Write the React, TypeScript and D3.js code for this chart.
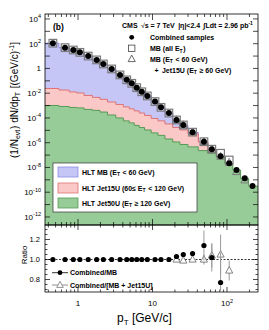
import React from 'react';
import * as d3 from 'd3';

// bin centres in pT [GeV/c]
const ptCenters = [0.46, 0.67, 0.865, 1.06, 1.37, 1.78, 2.19, 2.83, 3.66, 4.51, 5.27, 6.14, 7.17, 8.52, 10.8, 13, 16.6, 21, 25.9, 34.5, 49, 62.5, 82, 107, 134, 173, 220];
// combined samples
const combined = [110, 48, 31, 20, 10, 4.9, 2.3, 0.91, 0.3, 0.12, 0.063, 0.028, 0.013, 6.0e-3, 2.1e-3, 7.2e-4, 2.5e-4, 6.9e-5, 2.7e-5, 7.1e-6, 1.2e-6, 3.0e-7, 7.9e-8, 2.2e-8, 6.3e-9, 1.35e-9, 3.2e-10];
// MB (all ET), open squares
const mbAll = [110, 48, 31, 20, 10, 4.9, 2.3, 0.91, 0.3, 0.12, 0.063, 0.028, 0.013, 6.0e-3, 2.1e-3, 7.2e-4, 2.5e-4, 6.9e-5, 2.7e-5, 7.1e-6, 1.2e-6, 3.0e-7, 1.4e-7, 4.0e-8];
// MB (ET<60) + Jet15U (ET>=60), open triangles
const triPt = [21, 25.9, 34.5, 49, 62.5, 82, 107, 134, 173];
const triVal = [6.9e-5, 2.7e-5, 7.1e-6, 1.2e-6, 2.9e-7, 7.6e-8, 2.5e-8, 4.5e-9, 9.5e-10];
// trigger contributions (step histograms)
const hltMB = [110, 48, 31, 20, 10, 4.9, 2.3, 0.91, 0.3, 0.12, 0.063, 0.028, 0.013, 6.0e-3, 2.1e-3, 7.2e-4, 2.5e-4, 6.6e-5, 2.5e-5, 6.6e-6, 1.0e-6, 1e-7, 1e-8, 3e-10, 1e-11, 5e-13, 1e-13];
const hltJet15 = [0.024, 0.018, 0.0126, 0.0105, 6.6e-3, 4.6e-3, 3.2e-3, 1.95e-3, 1.23e-3, 7.8e-4, 5.4e-4, 3.7e-4, 2.5e-4, 1.6e-4, 9.1e-5, 5.8e-5, 3.3e-5, 1.7e-5, 1.07e-5, 5.1e-6, 1.17e-6, 2.8e-7, 6.3e-8, 6.3e-9, 6.3e-10, 3.2e-11, 1e-12];
const hltJet50 = [1.02e-3, 8.5e-4, 7.1e-4, 6.5e-4, 4.9e-4, 4.1e-4, 3.0e-4, 1.74e-4, 1.0e-4, 5.8e-5, 4.0e-5, 2.5e-5, 1.7e-5, 1.07e-5, 6.2e-6, 3.9e-6, 2.0e-6, 1.15e-6, 7.2e-7, 4.6e-7, 2.3e-7, 1.48e-7, 7.6e-8, 2.1e-8, 6.2e-9, 1.32e-9, 3.1e-10];
// ratios
const ratioMB = [1, 1, 1, 1, 1, 1, 1, 1, 1, 1, 1, 1, 1, 1, 1, 1, 1, 1.03, 1.05, 1.06, 1.14, 1.02, 0.77];
const ratioMBErr = [0, 0, 0, 0, 0, 0, 0, 0, 0, 0, 0, 0, 0, 0, 0, 0, 0, 0.01, 0.015, 0.02, 0.15, 0.14, 0.3];
const ratioTriPt = [21, 25.9, 34.5, 49, 62.5, 82, 107];
const ratioTri = [1.0, 0.99, 1.0, 1.0, 1.04, 1.05, 0.89];
const ratioTriErr = [0.01, 0.015, 0.02, 0.05, 0.12, 0.2, 0.1];

const yLabelExps = [4, 2, 0, -2, -4, -6, -8, -10, -12];
const ratioLabels = [0.8, 1.0, 1.2];
const xLabels = [1, 10, 100];

const FONT = 'Liberation Sans, Arial, sans-serif';
const L = 45, R = 258, T = 14, MB = 225, RB = 292;

const blue = { fill: '#c6c6f6', edge: '#8c8ce6' };
const pink = { fill: '#fbc8c8', edge: '#e07272' };
const green = { fill: '#97cb97', edge: '#559c55' };

const x = d3.scaleLog().domain([Math.pow(10, -0.443), Math.pow(10, 2.416)]).range([L, R]);
const y = d3.scaleLog().domain([Math.pow(10, -12.65), Math.pow(10, 4.4)]).range([MB, T]);
const yr = d3.scaleLinear().domain([0.675, 1.345]).range([RB, MB]);

const edges = [x.domain()[0], ...ptCenters.slice(1).map((c, i) => Math.sqrt(c * ptCenters[i])), x.domain()[1]];

type P = [number, number];
const stepPts = (vals: number[]): P[] => {
  const pts: P[] = [];
  vals.forEach((v, i) => {
    pts.push([edges[i], v]);
    pts.push([edges[i + 1], v]);
  });
  return pts;
};
const area = d3.area<P>().x((d) => x(d[0])).y0(MB + 5).y1((d) => Math.min(y(d[1]), MB + 5));
const line = d3.line<P>().x((d) => x(d[0])).y((d) => Math.min(y(d[1]), MB + 5));

const isMajor = (t: number) => Math.abs(Math.log10(t) - Math.round(Math.log10(t))) < 1e-6;

const tri = (cx: number, cy: number, s: number) =>
  `M${cx},${cy - s * 0.6}L${cx + s * 0.55},${cy + s * 0.4}L${cx - s * 0.55},${cy + s * 0.4}Z`;

const Hist = ({ vals, c }: { vals: number[]; c: { fill: string; edge: string } }) => {
  const pts = stepPts(vals);
  return (
    <g>
      <path d={area(pts) || ''} fill={c.fill} />
      <path d={line(pts) || ''} fill="none" stroke={c.edge} strokeWidth={1} />
    </g>
  );
};

const Sub = ({ t, s = 5 }: { t: string; s?: number }) => (
  <>
    <tspan dy={1.8} fontSize={s}>{t}</tspan>
    <tspan dy={-1.8}>{'\u200a'}</tspan>
  </>
);

export default function App() {
  const xTicks = x.ticks();
  const yDecades = d3.range(-12, 5).map((e) => Math.pow(10, e));
  const ratioTicks = d3.range(0.7, 1.34, 0.05);

  return (
    <svg width={269} height={330} style={{ position: 'absolute', left: 0, top: 0, background: '#fff' }} fontFamily={FONT}>
      <defs>
        <clipPath id="mainClip">
          <rect x={L} y={T} width={R - L} height={MB - T} />
        </clipPath>
        <clipPath id="ratioClip">
          <rect x={L} y={MB} width={R - L} height={RB - MB} />
        </clipPath>
      </defs>

      <g clipPath="url(#mainClip)">
        <Hist vals={hltMB} c={blue} />
        <Hist vals={hltJet15} c={pink} />
        <Hist vals={hltJet50} c={green} />
      </g>

      {/* frames */}
      <rect x={L} y={T} width={R - L} height={MB - T} fill="none" stroke="#000" strokeWidth={0.8} />
      <rect x={L} y={MB} width={R - L} height={RB - MB} fill="none" stroke="#000" strokeWidth={0.8} />

      {/* x ticks on all horizontal edges */}
      {xTicks.map((t, i) => {
        const xx = x(t);
        const big = isMajor(t);
        return (
          <g key={'xt' + i} stroke="#000" strokeWidth={0.7}>
            <line x1={xx} x2={xx} y1={T} y2={T + (big ? 6 : 3)} />
            <line x1={xx} x2={xx} y1={MB} y2={MB - (big ? 6 : 3)} />
            <line x1={xx} x2={xx} y1={MB} y2={MB + (big ? 5 : 2.5)} />
            <line x1={xx} x2={xx} y1={RB} y2={RB - (big ? 5 : 2.5)} />
          </g>
        );
      })}

      {/* main y ticks */}
      {yDecades.map((t, i) => (
        <g key={'yt' + i} stroke="#000" strokeWidth={0.7}>
          <line x1={L} x2={L + 5} y1={y(t)} y2={y(t)} />
          <line x1={R} x2={R - 5} y1={y(t)} y2={y(t)} />
        </g>
      ))}
      {yLabelExps.map((e) => (
        <text key={'yl' + e} x={41} y={y(Math.pow(10, e)) + 3} fontSize={8} textAnchor="end" fill="#000">
          {e === 0 ? '1' : (
            <>
              10<tspan dy={-3.5} fontSize={5.5}>{e}</tspan>
            </>
          )}
        </text>
      ))}

      {/* ratio y ticks */}
      {ratioTicks.map((t, i) => {
        const big = ratioLabels.some((v) => Math.abs(v - t) < 1e-6);
        const yy = yr(t);
        return (
          <g key={'rt' + i} stroke="#000" strokeWidth={0.7}>
            <line x1={L} x2={L + (big ? 5 : 2.5)} y1={yy} y2={yy} />
            <line x1={R} x2={R - (big ? 5 : 2.5)} y1={yy} y2={yy} />
          </g>
        );
      })}
      {ratioLabels.map((v) => (
        <text key={'rl' + v} x={40} y={yr(v) + 2.7} fontSize={7.5} textAnchor="end">
          {v.toFixed(1)}
        </text>
      ))}

      {/* x labels */}
      {xLabels.map((v) => (
        <text key={'xl' + v} x={x(v)} y={306} fontSize={8} textAnchor="middle">
          {v === 100 ? (
            <>
              10<tspan dy={-3.5} fontSize={5.5}>2</tspan>
            </>
          ) : (
            String(v)
          )}
        </text>
      ))}

      {/* main markers */}
      <g clipPath="url(#mainClip)">
        {mbAll.map((v, i) => (
          <rect key={'sq' + i} x={x(ptCenters[i]) - 3.8} y={y(v) - 3.8} width={7.6} height={7.6} fill="none" stroke="#7a7a7a" strokeWidth={1.2} />
        ))}
        {triVal.map((v, i) => (
          <path key={'tr' + i} d={tri(x(triPt[i]), y(v), 7)} fill="none" stroke="#777" strokeWidth={0.9} />
        ))}
        {combined.map((v, i) => (
          <circle key={'c' + i} cx={x(ptCenters[i])} cy={y(v)} r={3} fill="#000" />
        ))}
      </g>

      {/* ratio panel */}
      <line x1={L} x2={R} y1={yr(1)} y2={yr(1)} stroke="#000" strokeWidth={0.8} strokeDasharray="2,1.5" />
      <g clipPath="url(#ratioClip)">
        {ratioTri.map((v, i) => (
          <g key={'rtri' + i}>
            <line x1={x(ratioTriPt[i])} x2={x(ratioTriPt[i])} y1={yr(v + ratioTriErr[i])} y2={yr(v - ratioTriErr[i])} stroke="#999" strokeWidth={1} />
            <path d={tri(x(ratioTriPt[i]), yr(v), 6.5)} fill="#fff" stroke="#777" strokeWidth={0.9} />
          </g>
        ))}
        {ratioMB.map((v, i) => (
          <g key={'rc' + i}>
            {ratioMBErr[i] > 0 && (
              <line x1={x(ptCenters[i])} x2={x(ptCenters[i])} y1={yr(v + ratioMBErr[i])} y2={yr(v - ratioMBErr[i])} stroke="#999" strokeWidth={1} />
            )}
            <circle cx={x(ptCenters[i])} cy={yr(v)} r={2.6} fill="#000" />
          </g>
        ))}
      </g>

      {/* panel tag */}
      <text x={53} y={30} fontSize={8.5} fontWeight="bold">(b)</text>

      {/* top-right legend */}
      <g fontSize={7} fontWeight="bold" fill="#000">
        <text x={122} y={27.5}>
          CMS {'\u2009'}<tspan fontWeight="normal">{'\u221A'}</tspan>s = 7 TeV {'\u2009'}|{'\u03B7'}|{'<'}2.4 {'\u2009'}{'\u222B'}Ldt = 2.96 pb<tspan dy={-3} fontSize={5}>-1</tspan>
        </text>
        <circle cx={131.7} cy={37.3} r={2.4} fill="#000" />
        <text x={150} y={39.8}>Combined samples</text>
        <rect x={128.5} y={45.1} width={6.4} height={6.4} fill="none" stroke="#444" strokeWidth={0.8} />
        <text x={150} y={50.8}>MB (all E<Sub t="T" />)</text>
        <path d={tri(131.7, 59, 6.5)} fill="none" stroke="#444" strokeWidth={0.8} />
        <text x={150} y={61.5}>MB (E<Sub t="T" /> {'<'} 60 GeV)</text>
        <text x={154.5} y={72.5}>+ {'\u2009'}Jet15U (E<Sub t="T" /> {'\u2265'} 60 GeV)</text>
      </g>

      {/* lower-left legend box */}
      <rect x={53} y={163} width={144} height={49} fill="#fff" stroke="#333" strokeWidth={0.7} />
      <g fontSize={7} fontWeight="bold">
        <rect x={58} y={167} width={20} height={10} fill={blue.fill} stroke={blue.edge} strokeWidth={0.8} />
        <text x={82} y={174.5}>HLT MB (E<Sub t="T" /> {'<'} 60 GeV)</text>
        <rect x={58} y={183} width={20} height={10} fill={pink.fill} stroke={pink.edge} strokeWidth={0.8} />
        <text x={82} y={190.5}>HLT Jet15U (60{'\u2264'} E<Sub t="T" /> {'<'} 120 GeV)</text>
        <rect x={58} y={198} width={20} height={10} fill={green.fill} stroke={green.edge} strokeWidth={0.8} />
        <text x={82} y={205.5}>HLT Jet50U (E<Sub t="T" /> {'\u2265'} 120 GeV)</text>
      </g>

      {/* ratio legend */}
      <g fontSize={7} fontWeight="bold">
        <line x1={52} x2={68} y1={272.7} y2={272.7} stroke="#000" strokeWidth={0.8} />
        <circle cx={60} cy={272.7} r={2.4} fill="#000" />
        <text x={70} y={275.2}>Combined/MB</text>
        <line x1={52} x2={68} y1={285} y2={285} stroke="#777" strokeWidth={0.8} />
        <path d={tri(60, 285, 6)} fill="#fff" stroke="#777" strokeWidth={0.8} />
        <text x={70} y={287.5}>Combined/[MB + Jet15U]</text>
      </g>

      {/* axis titles */}
      <text transform="translate(18,100) rotate(-90)" fontSize={10} textAnchor="middle">
        (1/N<Sub t="evt" s={7} />) dN/dp<Sub t="T" s={7} /> [(GeV/c)<tspan dy={-4} fontSize={7}>-1</tspan><tspan dy={4}>]</tspan>
      </text>
      <text transform="translate(27,255) rotate(-90)" fontSize={8} textAnchor="middle">Ratio</text>
      <text x={117} y={322} fontSize={12}>
        p<tspan dy={2.5} fontSize={8}>T</tspan><tspan dy={-2.5}> [GeV/c]</tspan>
      </text>
    </svg>
  );
}
